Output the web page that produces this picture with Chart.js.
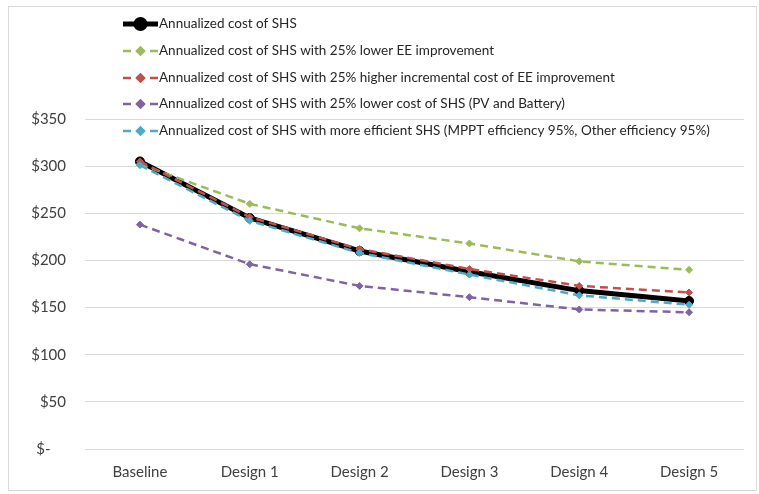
<!DOCTYPE html>
<html>
<head>
<meta charset="utf-8">
<script src="https://cdn.jsdelivr.net/npm/chart.js@4.4.1/dist/chart.umd.min.js"></script>
<style>
  html, body { margin: 0; padding: 0; background: #fff; }
  #wrap { position: relative; width: 759px; height: 494px; }
</style>
</head>
<body>
<div id="wrap"><canvas id="costChart" width="759" height="494"></canvas></div>
<script>
  const categories = ["Baseline", "Design 1", "Design 2", "Design 3", "Design 4", "Design 5"];
  const yTicks = [0, 50, 100, 150, 200, 250, 300, 350];

  const costBase = [305, 245, 210, 188, 168, 157];
  const costLowerEE = [302, 260, 234, 218, 199, 190];
  const costHigherIncremental = [305, 246, 212, 191, 173, 166];
  const costLowerShs = [238, 196, 173, 161, 148, 145];
  const costEfficientShs = [301, 242, 208, 185, 163, 153];

  const seriesNames = [
    "Annualized cost of SHS",
    "Annualized cost of SHS with 25% lower EE improvement",
    "Annualized cost of SHS with 25% higher incremental cost of EE improvement",
    "Annualized cost of SHS with 25% lower cost of SHS (PV and Battery)",
    "Annualized cost of SHS with more efficient SHS (MPPT efficiency 95%, Other efficiency 95%)"
  ];

  const FONT = "Lato, 'Open Sans', sans-serif";

  const dashed = (label, data, color, order) => ({
    label, data, order,
    borderColor: color, backgroundColor: color,
    borderWidth: 2.5, borderDash: [8, 5],
    pointStyle: "rectRot", pointRadius: 3.5, pointBorderWidth: 1,
    tension: 0
  });

  const datasets = [
    {
      label: seriesNames[0], data: costBase, order: 5,
      borderColor: "#000000", backgroundColor: "#000000",
      borderWidth: 5, pointStyle: "circle", pointRadius: 4.5, pointBorderWidth: 1, tension: 0
    },
    dashed(seriesNames[1], costLowerEE, "#9BBB59", 4),
    dashed(seriesNames[2], costHigherIncremental, "#C0504D", 3),
    dashed(seriesNames[3], costLowerShs, "#8064A2", 2),
    dashed(seriesNames[4], costEfficientShs, "#4BACC6", 1)
  ];

  // frame around the whole picture
  const framePlugin = {
    id: "frame",
    beforeDraw(chart) {
      const ctx = chart.ctx;
      ctx.save();
      ctx.fillStyle = "#ffffff";
      ctx.fillRect(0, 0, chart.width, chart.height);
      ctx.strokeStyle = "#d9d9d9";
      ctx.lineWidth = 1;
      ctx.strokeRect(8.5, 6.5, 748, 484);
      ctx.restore();
    }
  };

  // legend sits inside the plot, top left, like the original
  const legendPlugin = {
    id: "innerLegend",
    afterDatasetsDraw(chart) {
      const ctx = chart.ctx;
      const rows = [24, 51, 78, 104, 131];
      ctx.save();
      chart.data.datasets.forEach((ds, i) => {
        const y = rows[i];
        ctx.strokeStyle = ds.borderColor;
        ctx.lineWidth = ds.borderWidth;
        ctx.beginPath();
        if (ds.borderDash) {
          ctx.moveTo(123, y); ctx.lineTo(131, y);
          ctx.moveTo(150, y); ctx.lineTo(158, y);
        } else {
          ctx.moveTo(123, y); ctx.lineTo(158, y);
        }
        ctx.stroke();
        Chart.helpers.drawPoint(ctx, {
          pointStyle: ds.pointStyle, radius: ds.pointRadius, borderWidth: 1
        }, 140.5, y);
        ctx.fillStyle = ds.backgroundColor;
        ctx.fill();
        ctx.fillStyle = "#262626";
        ctx.font = "13.5px " + FONT;
        ctx.textBaseline = "middle";
        ctx.textAlign = "left";
        ctx.fillText(ds.label, 159, y);
      });
      ctx.restore();
    }
  };

  new Chart(document.getElementById("costChart"), {
    type: "line",
    data: { labels: categories, datasets },
    options: {
      responsive: false,
      animation: false,
      layout: { padding: { top: 119, right: 15, bottom: 0, left: 0 } },
      plugins: { legend: { display: false }, tooltip: { enabled: false } },
      scales: {
        x: {
          offset: true,
          grid: { display: false, drawTicks: false },
          border: { display: false },
          ticks: { color: "#404040", font: { family: FONT, size: 15 }, padding: 14, maxRotation: 0 },
          afterFit: (s) => { s.height = 45; }
        },
        y: {
          min: 0, max: 350,
          afterBuildTicks: (s) => { s.ticks = yTicks.map((v) => ({ value: v })); },
          grid: { color: "#d9d9d9", lineWidth: 1, drawTicks: false },
          border: { display: false },
          ticks: {
            color: "#404040", font: { family: FONT, size: 15 }, padding: 19,
            callback: (v) => (v === 0 ? "$-    " : "$" + v)
          },
          afterFit: (s) => { s.width = 85; }
        }
      }
    },
    plugins: [framePlugin, legendPlugin]
  });
</script>
</body>
</html>
